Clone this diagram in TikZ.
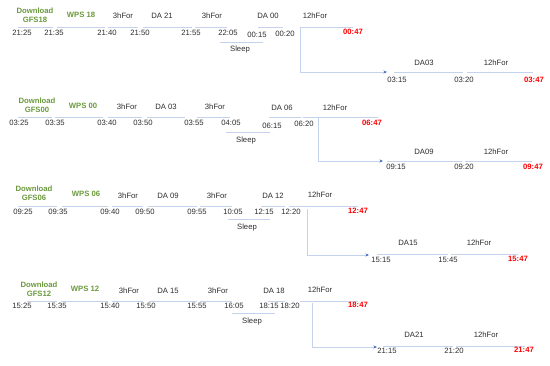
\documentclass[tikz,border=0pt]{standalone}
\usepackage{fontspec}
\setmainfont{Liberation Sans}
\usetikzlibrary{arrows.meta}
\definecolor{grn}{RGB}{106,153,60}
\definecolor{barc}{RGB}{196,210,236}
\definecolor{arrc}{RGB}{68,114,196}
\definecolor{txt}{RGB}{45,45,45}
\definecolor{redc}{RGB}{255,0,0}
\tikzset{
  lbl/.style={font=\fontsize{7.7}{8.6}\selectfont, text=txt, inner sep=0pt},
  gl/.style={lbl, font=\fontsize{7.7}{8.8}\selectfont\bfseries, text=grn, align=center},
  rl/.style={lbl, font=\fontsize{7.7}{8.6}\selectfont\bfseries, text=redc},
  bar/.style={draw=barc, line width=0.85pt},
  conn/.style={draw=barc, line width=0.85pt, -{Stealth[length=3.5pt,width=3pt,color=arrc]}}
}
\begin{document}
\begin{tikzpicture}[x=1pt,y=-1pt]
\useasboundingbox (0,0) rectangle (550,366);
% ---------------- Block 1 ----------------
\node[gl] (a0) at (35,15) {Download\\GFS18};
\node[gl] (a1) at (81,15) {WPS 18};
\node[lbl] (a2) at (123,16) {3hFor};
\node[lbl] (a3) at (162,16) {DA 21};
\node[lbl] (a4) at (212,16) {3hFor};
\node[lbl] (a5) at (268,16) {DA 00};
\node[lbl] (a6) at (315,16) {12hFor};
\foreach \p/\q in {18/53,57/105,108/138,143/192,195/227,258/283,300/353} \draw[bar] (\p,27) -- (\q,27);
\node[lbl] (at1) at (22,33) {21:25};
\node[lbl] (at2) at (54,33) {21:35};
\node[lbl] (at3) at (107,33) {21:40};
\node[lbl] (at4) at (140,33) {21:50};
\node[lbl] (at5) at (191,33) {21:55};
\node[lbl] (at6) at (228,33) {22:05};
\node[lbl] (at7) at (257,35) {00:15};
\node[lbl] (at8) at (285,34) {00:20};
\node[rl] (at9) at (353,32) {00:47};
\draw[bar] (220,42) -- (263,42);
\node[lbl] (asl) at (240,50) {Sleep};
\coordinate (as) at (300,27);
\coordinate (ae) at (387,72);
\draw[conn] (as) |- (ae);
\foreach \p/\q in {394/463,467/533} \draw[bar] (\p,72) -- (\q,72);
\node[lbl] (ab1) at (424,63) {DA03};
\node[lbl] (ab2) at (496,63) {12hFor};
\node[lbl] (ab3) at (397,80) {03:15};
\node[lbl] (ab4) at (464,80) {03:20};
\node[rl] (ab5) at (534,80) {03:47};
% ---------------- Block 2 ----------------
\node[gl] (b0) at (37,105.5) {Download\\GFS00};
\node[gl] (b1) at (83,106) {WPS 00};
\node[lbl] (b2) at (127,107) {3hFor};
\node[lbl] (b3) at (166,107) {DA 03};
\node[lbl] (b4) at (215,107) {3hFor};
\node[lbl] (b5) at (282,108) {DA 06};
\node[lbl] (b6) at (335,108) {12hFor};
\foreach \p/\q in {18/52,55/103,108/142,147/185,197/230,269/301,303/378} \draw[bar] (\p,117) -- (\q,117);
\node[lbl] (bt1) at (19,123) {03:25};
\node[lbl] (bt2) at (55,123) {03:35};
\node[lbl] (bt3) at (107,123) {03:40};
\node[lbl] (bt4) at (143,123) {03:50};
\node[lbl] (bt5) at (194,123) {03:55};
\node[lbl] (bt6) at (231,123) {04:05};
\node[lbl] (bt7) at (272,126) {06:15};
\node[lbl] (bt8) at (304,124) {06:20};
\node[rl] (bt9) at (372,123) {06:47};
\draw[bar] (226,132) -- (270,132);
\node[lbl] (bsl) at (246,141) {Sleep};
\coordinate (bs) at (318,117);
\coordinate (be) at (383,161);
\draw[conn] (bs) |- (be);
\foreach \p/\q in {387/462,465/532} \draw[bar] (\p,161) -- (\q,161);
\node[lbl] (bb1) at (424,152) {DA09};
\node[lbl] (bb2) at (496,152) {12hFor};
\node[lbl] (bb3) at (396,167) {09:15};
\node[lbl] (bb4) at (464,167) {09:20};
\node[rl] (bb5) at (533,167) {09:47};
% ---------------- Block 3 ----------------
\node[gl] (c0) at (34,193.5) {Download\\GFS06};
\node[gl] (c1) at (86,194) {WPS 06};
\node[lbl] (c2) at (128,196) {3hFor};
\node[lbl] (c3) at (168,196) {DA 09};
\node[lbl] (c4) at (217,196) {3hFor};
\node[lbl] (c5) at (273,196) {DA 12};
\node[lbl] (c6) at (320,195) {12hFor};
\foreach \p/\q in {18/57,62/108,112/143,148/197,200/232,261/285,289/358} \draw[bar] (\p,206) -- (\q,206);
\node[lbl] (ct1) at (23,212) {09:25};
\node[lbl] (ct2) at (58,212) {09:35};
\node[lbl] (ct3) at (110,212) {09:40};
\node[lbl] (ct4) at (145,212) {09:50};
\node[lbl] (ct5) at (197,212) {09:55};
\node[lbl] (ct6) at (233,212) {10:05};
\node[lbl] (ct7) at (264,212) {12:15};
\node[lbl] (ct8) at (291,212) {12:20};
\node[rl] (ct9) at (358,211) {12:47};
\draw[bar] (228,219) -- (270,219);
\node[lbl] (csl) at (247,228) {Sleep};
\coordinate (cs) at (307,209);
\coordinate (ce) at (369,255);
\draw[conn] (cs) |- (ce);
\foreach \p/\q in {377/448,451/518} \draw[bar] (\p,254) -- (\q,254);
\node[lbl] (cb1) at (408,243) {DA15};
\node[lbl] (cb2) at (479,243) {12hFor};
\node[lbl] (cb3) at (381,260) {15:15};
\node[lbl] (cb4) at (448,260) {15:45};
\node[rl] (cb5) at (518,259) {15:47};
% ---------------- Block 4 ----------------
\node[gl] (d0) at (39,289.5) {Download\\GFS12};
\node[gl] (d1) at (85,289) {WPS 12};
\node[lbl] (d2) at (129,291) {3hFor};
\node[lbl] (d3) at (168,291) {DA 15};
\node[lbl] (d4) at (218,291) {3hFor};
\node[lbl] (d5) at (274,291) {DA 18};
\node[lbl] (d6) at (320,290) {12hFor};
\foreach \p/\q in {27/57,61/108,112/143,149/197,200/232,268/285,300/358} \draw[bar] (\p,301) -- (\q,301);
\node[lbl] (dt1) at (22,306) {15:25};
\node[lbl] (dt2) at (57,306) {15:35};
\node[lbl] (dt3) at (110,306) {15:40};
\node[lbl] (dt4) at (146,306) {15:50};
\node[lbl] (dt5) at (197,306) {15:55};
\node[lbl] (dt6) at (234,306) {16:05};
\node[lbl] (dt7) at (269,306) {18:15};
\node[lbl] (dt8) at (290,306) {18:20};
\node[rl] (dt9) at (358,305) {18:47};
\draw[bar] (232,313) -- (275,313);
\node[lbl] (dsl) at (252,322) {Sleep};
\coordinate (ds) at (312,303);
\coordinate (de) at (377,347);
\draw[conn] (ds) |- (de);
\foreach \p/\q in {383/453,456/525} \draw[bar] (\p,346) -- (\q,346);
\node[lbl] (db1) at (414,335) {DA21};
\node[lbl] (db2) at (486,335) {12hFor};
\node[lbl] (db3) at (387,351) {21:15};
\node[lbl] (db4) at (454,351) {21:20};
\node[rl] (db5) at (524,350) {21:47};
\end{tikzpicture}
\end{document}
